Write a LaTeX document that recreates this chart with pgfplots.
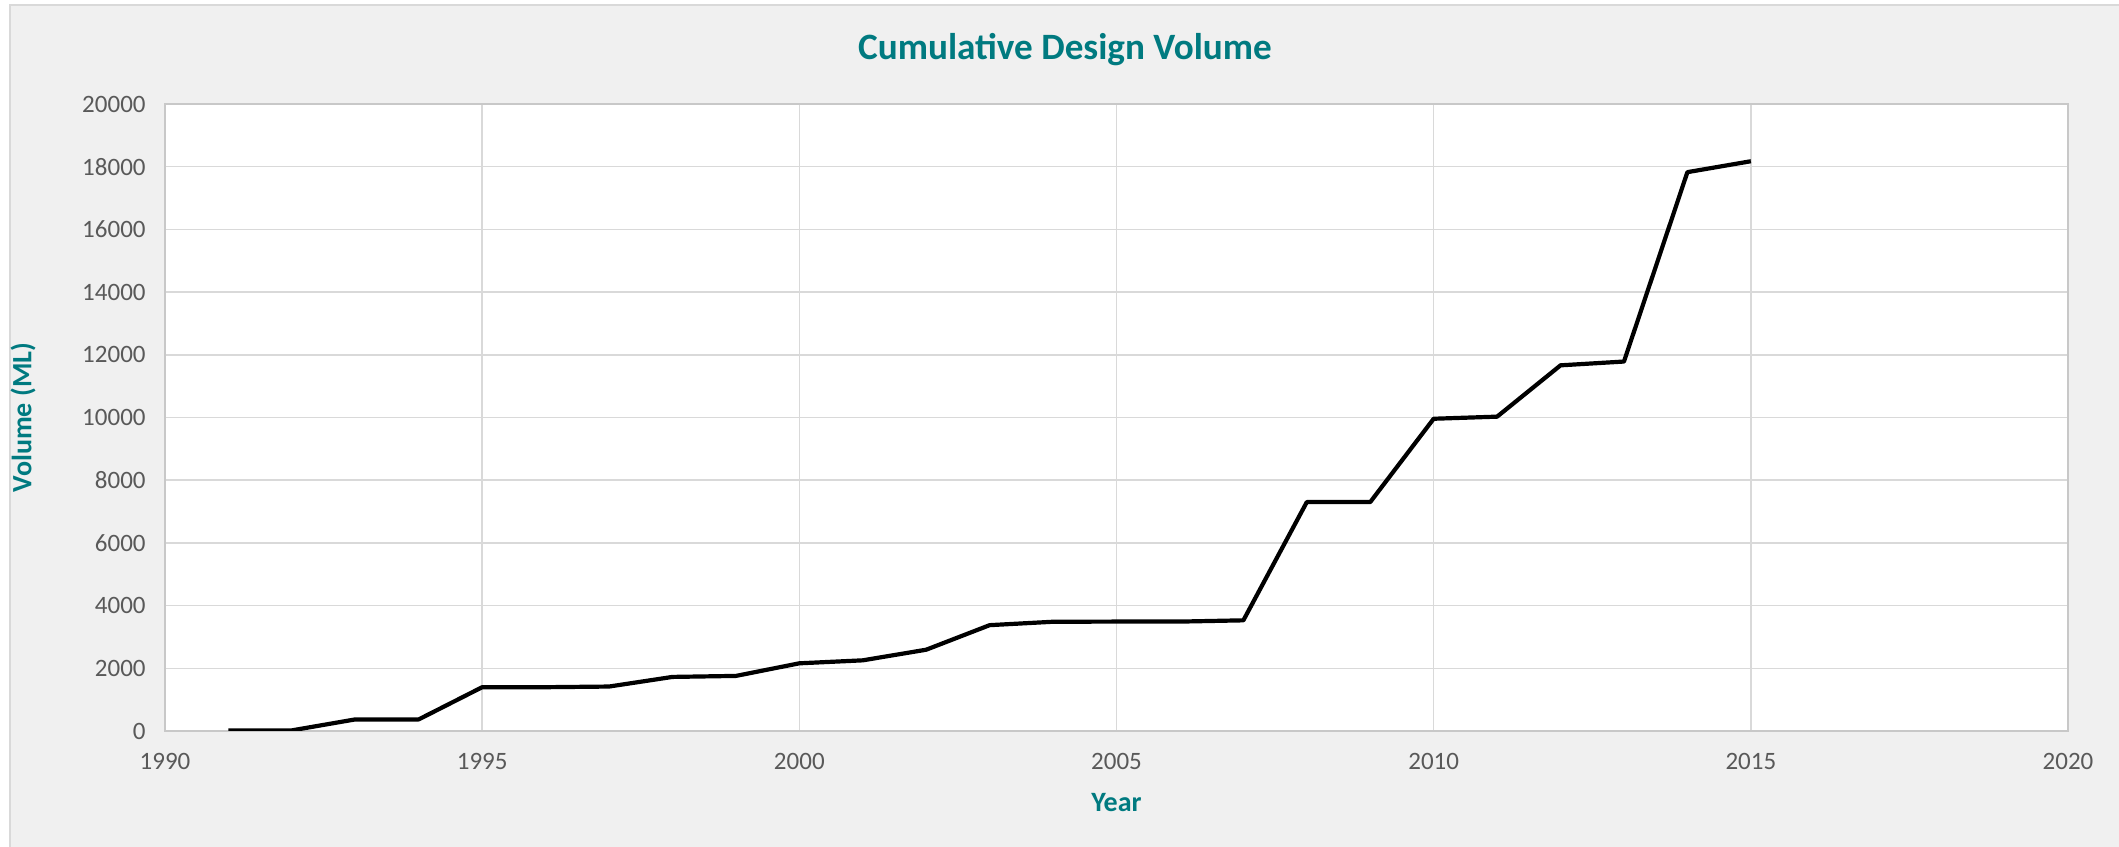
\documentclass[border=0pt]{standalone}
\usepackage{fontspec}
\setmainfont{Carlito}
\usepackage{pgfplots}
\pgfplotsset{compat=1.18}
\definecolor{bgc}{HTML}{F0F0F0}
\definecolor{frm}{HTML}{D9D9D9}
\definecolor{gridc}{HTML}{D9D9D9}
\definecolor{axc}{HTML}{C8C8C8}
\definecolor{tickc}{HTML}{595959}
\definecolor{teal}{RGB}{0,122,128}
\begin{document}
\begin{tikzpicture}
\useasboundingbox (0,0) rectangle (1059.5bp,423.5bp);
\fill[white] (0,0) rectangle (1059.5bp,423.5bp);
\fill[bgc] (5bp,-5bp) rectangle (1065bp,421bp);
\draw[frm, line width=1bp] (5bp,-5bp) -- (5bp,421bp) -- (1065bp,421bp);
\node[font=\bfseries\fontsize{18.6bp}{21bp}\selectfont, text=teal, anchor=center] at (532.5bp,398.5bp) {Cumulative Design Volume};
\begin{axis}[
  at={(82.5bp,58bp)}, anchor=south west,
  scale only axis, width=951.5bp, height=313.5bp,
  xmin=1990, xmax=2020, ymin=0, ymax=20000,
  xtick={1990,1995,...,2020},
  ytick={0,2000,...,20000},
  grid=major,
  major grid style={gridc, line width=0.75bp},
  axis line style={axc, line width=0.9bp},
  major tick length=0pt,
  axis background/.style={fill=white},
  /pgf/number format/assume math mode=true,
  /pgf/number format/1000 sep={},
  scaled ticks=false,
  tick label style={font=\fontsize{12.5bp}{14bp}\selectfont, text=tickc, inner sep=0pt},
  yticklabel style={anchor=east, xshift=-9.5bp},
  xticklabel style={anchor=center, yshift=-15bp},
  xlabel={Year}, ylabel={Volume (ML)},
  label style={font=\bfseries\fontsize{14bp}{16bp}\selectfont, text=teal, inner sep=0pt},
  xlabel style={at={([yshift=-36bp]axis description cs:0.5,0)}, anchor=center},
  ylabel style={at={([xshift=-71bp]axis description cs:0,0.5)}, anchor=center, rotate=0},
]
\addplot[black, line width=2.1bp, line join=round] coordinates {
(1991,20) (1992,20) (1993,370) (1994,370) (1995,1397) (1996,1397) (1997,1418)
(1998,1725) (1999,1757) (2000,2159) (2001,2254) (2002,2593) (2003,3376)
(2004,3485) (2005,3490) (2006,3490) (2007,3530) (2008,7302) (2009,7302)
(2010,9960) (2011,10027) (2012,11664) (2013,11785) (2014,17826) (2015,18174)
};
\end{axis}
\end{tikzpicture}
\end{document}
